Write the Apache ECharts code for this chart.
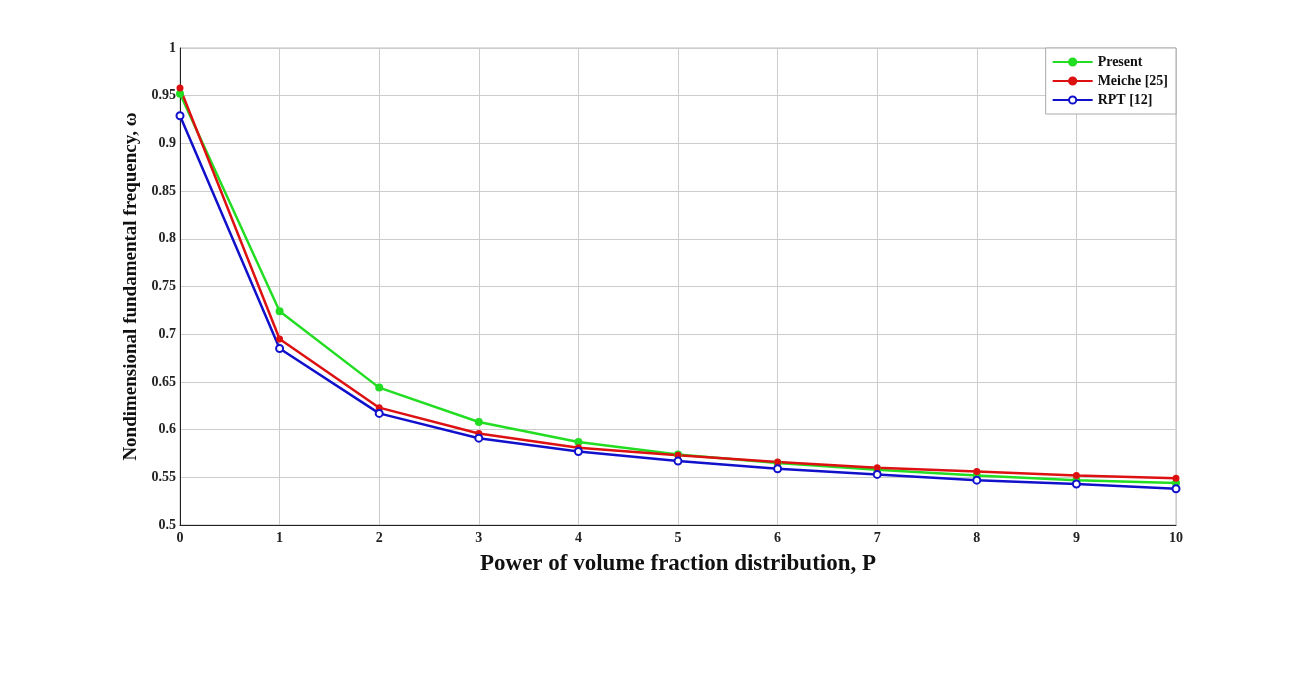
<!DOCTYPE html>
<html><head><meta charset="utf-8">
<script src="https://cdn.jsdelivr.net/npm/echarts@6/dist/echarts.min.js"></script>
<style>html,body{margin:0;padding:0;background:#fff}#c{width:1290px;height:677px}</style>
</head><body><div id="c"></div>
<script>
const P = [0,1,2,3,4,5,6,7,8,9,10];
const present = [0.952,0.724,0.644,0.608,0.587,0.574,0.565,0.558,0.552,0.547,0.544];
const meiche  = [0.958,0.695,0.623,0.596,0.581,0.573,0.566,0.560,0.556,0.552,0.549];
const rpt     = [0.929,0.685,0.617,0.591,0.577,0.567,0.559,0.553,0.547,0.543,0.538];
const yTicks = [0.5,0.55,0.6,0.65,0.7,0.75,0.8,0.85,0.9,0.95,1];
const font = '"Liberation Serif", "Times New Roman", serif';
const chart = echarts.init(document.getElementById('c'));
const mk = (name, data, color, symbol, size) => ({
  name, type:'line', data: P.map((p,i)=>[p,data[i]]),
  symbol, symbolSize:size, showSymbol:true,
  lineStyle:{color, width:2.5}, itemStyle:{color, borderColor:color, borderWidth:2},
  emphasis:{disabled:true}
});
chart.setOption({
  animation:false,
  grid:{left:180, right:114, top:48, bottom:152, show:true, borderColor:'#bbb', borderWidth:1},
  legend:{
    orient:'vertical', right:114, top:48, itemWidth:40, itemHeight:9, itemGap:5,
    backgroundColor:'#fff', borderColor:'#aaa', borderWidth:1, padding:[7,8,7,6],
    textStyle:{fontFamily:font, fontWeight:'bold', fontSize:14, color:'#111'},
    data:['Present','Meiche [25]','RPT [12]']
  },
  xAxis:{
    type:'value', min:0, max:10, interval:1,
    name:'Power of volume fraction distribution, P', nameLocation:'middle', nameGap:28,
    nameTextStyle:{fontFamily:font, fontWeight:'bold', fontSize:23, color:'#111'},
    axisLine:{lineStyle:{color:'#222'}}, axisTick:{show:false},
    axisLabel:{fontFamily:font, fontWeight:'bold', fontSize:14, color:'#222', margin:6},
    splitLine:{lineStyle:{color:'#ccc'}}
  },
  yAxis:{
    type:'value', min:0.5, max:1, interval:0.05,
    name:'Nondimensional fundamental frequency, ω', nameLocation:'middle', nameGap:36,
    nameTextStyle:{fontFamily:font, fontWeight:'bold', fontSize:19, color:'#111'},
    axisLine:{show:true, lineStyle:{color:'#222'}}, axisTick:{show:false},
    axisLabel:{fontFamily:font, fontWeight:'bold', fontSize:14, color:'#222', margin:4,
      formatter:v=>{const t=yTicks.find(x=>Math.abs(x-v)<1e-6); return t===undefined?'':String(t);}},
    splitLine:{lineStyle:{color:'#ccc'}}
  },
  series:[
    mk('Present', present, '#22dd22', 'circle', 6),
    mk('Meiche [25]', meiche, '#dd1111', 'circle', 5),
    Object.assign(mk('RPT [12]', rpt, '#1111cc', 'emptyCircle', 7), {itemStyle:{color:'#1111cc', borderColor:'#1111cc', borderWidth:2}})
  ]
});
</script></body></html>
